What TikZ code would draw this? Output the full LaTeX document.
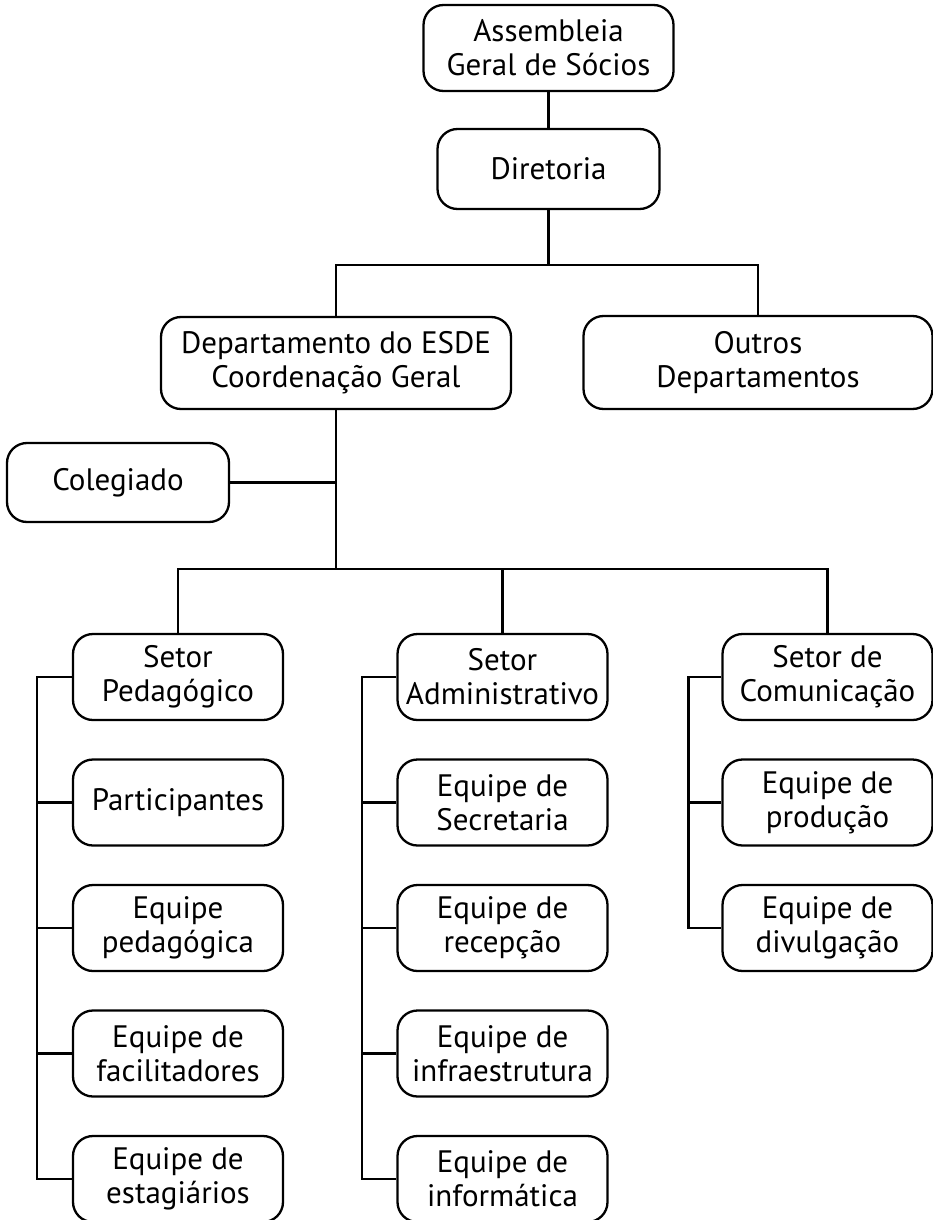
\documentclass[tikz,border=0pt]{standalone}
\usepackage{fontspec}
\setmainfont{PT Sans}
\begin{document}
\begin{tikzpicture}[x=1pt,y=-1pt,
  box/.style={draw, line width=2.3pt, rounded corners=20pt, align=center,
    inner sep=0pt, font=\fontsize{31}{34}\selectfont},
  tbox/.style={box, minimum width=210pt, minimum height=86pt},
  link/.style={line width=2.3pt}]
\useasboundingbox (0,0) rectangle (933,1220);
% top
\node[box, minimum width=250pt, minimum height=86pt] (asm) at (548.5,48) {Assembleia\\Geral de Sócios};
\node[box, minimum width=222pt, minimum height=80pt] (dir) at (548.5,169) {Diretoria};
\node[box, minimum width=350pt, minimum height=92pt] (dept) at (336,363) {Departamento do ESDE\\Coordenação Geral};
\node[box, minimum width=349pt, minimum height=93pt] (outros) at (758,362.5) {Outros\\Departamentos};
\node[box, minimum width=222pt, minimum height=79pt] (coleg) at (118,482.5) {Colegiado};
% column 1
\node[tbox] (sp) at (178,677) {Setor\\Pedagógico};
\node[tbox] (p2) at (178,802.5) {Participantes};
\node[tbox] (p3) at (178,928) {Equipe\\pedagógica};
\node[tbox] (p4) at (178,1053.5) {Equipe de\\facilitadores};
\node[tbox] (p5) at (178,1179) {Equipe de\\estagiários};
% column 2
\node[tbox] (sa) at (502.5,677) {Setor\\Administrativo};
\node[tbox] (a2) at (502.5,802.5) {Equipe de\\Secretaria};
\node[tbox] (a3) at (502.5,928) {Equipe de\\recepção};
\node[tbox] (a4) at (502.5,1053.5) {Equipe de\\infraestrutura};
\node[tbox] (a5) at (502.5,1179) {Equipe de\\informática};
% column 3
\node[tbox] (sc) at (827.5,677) {Setor de\\Comunicação};
\node[tbox] (c2) at (827.5,802.5) {Equipe de\\produção};
\node[tbox] (c3) at (827.5,928) {Equipe de\\divulgação};
% connectors
\coordinate (j1) at (548.5,265);
\coordinate (j2) at (336,569);
\draw[link] (asm.south) -- (dir.north);
\draw[link] (dir.south) -- (j1);
\draw[link] (dept.north) |- (j1) -| (outros.north);
\draw[link] (dept.south) -- (j2);
\draw[link] (coleg.east) -- (coleg.east -| dept.south);
\draw[link] (sp.north) |- (j2) -| (sc.north);
\draw[link] (sa.north) -- (sa.north |- j2);
\draw[link] (sp.west) -- ++(-35,0) |- (p5.west);
\draw[link] (p2.west) -- ++(-35,0);
\draw[link] (p3.west) -- ++(-35,0);
\draw[link] (p4.west) -- ++(-35,0);
\draw[link] (sa.west) -- ++(-34.5,0) |- (a5.west);
\draw[link] (a2.west) -- ++(-34.5,0);
\draw[link] (a3.west) -- ++(-34.5,0);
\draw[link] (a4.west) -- ++(-34.5,0);
\draw[link] (sc.west) -- ++(-33,0) |- (c3.west);
\draw[link] (c2.west) -- ++(-33,0);
\end{tikzpicture}
\end{document}
